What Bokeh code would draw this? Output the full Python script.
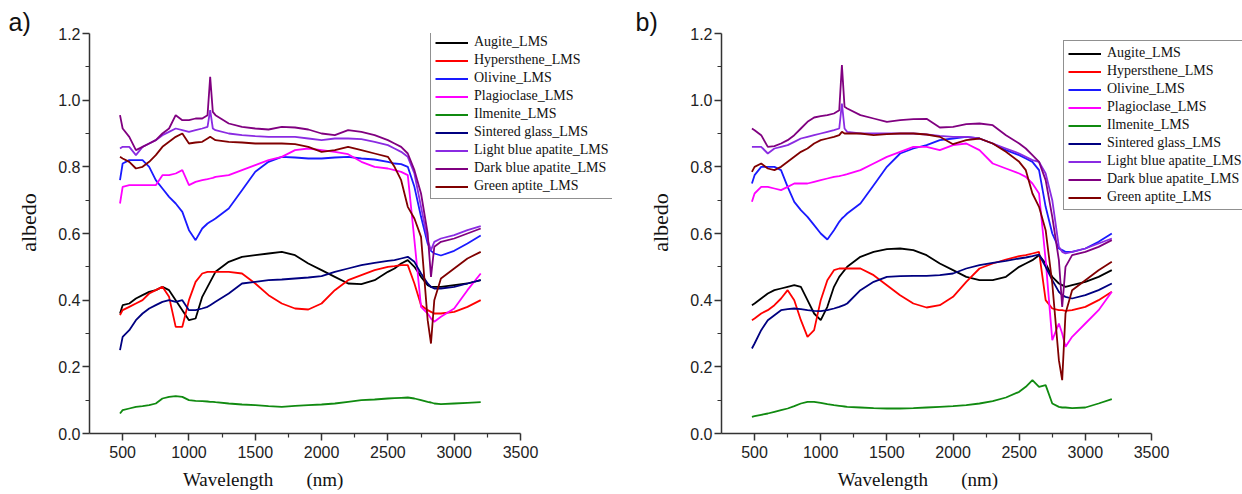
from bokeh.plotting import figure
from bokeh.layouts import row
from bokeh.models import (Range1d, FixedTicker, PrintfTickFormatter, Legend, LegendItem, Title)
from bokeh.embed import file_html
from bokeh.resources import INLINE

# ---------------- data ----------------
WL = [480, 500, 550, 600, 650, 700, 750, 800, 850, 900, 950, 1000, 1050, 1100, 1140, 1160, 1180, 1200,
      1300, 1400, 1500, 1600, 1700, 1800, 1900, 2000, 2100, 2200, 2300, 2400, 2500, 2550, 2600, 2650,
      2700, 2750, 2800, 2825, 2850, 2900, 3000, 3100, 3200]

NAMES = ["Augite_LMS", "Hypersthene_LMS", "Olivine_LMS", "Plagioclase_LMS", "Ilmenite_LMS",
         "Sintered glass_LMS", "Light blue apatite_LMS", "Dark blue apatite_LMS", "Green aptite_LMS"]
COLORS = ["#000000", "#ff0000", "#1a1aff", "#ff00ff", "#108a10", "#000080", "#8a2be2", "#800080", "#800000"]

# panel a)
augite_a = [0.36, 0.385, 0.39, 0.405, 0.415, 0.425, 0.43, 0.44, 0.43, 0.40, 0.37, 0.34, 0.345, 0.41, 0.44, 0.455, 0.47, 0.485,
            0.515, 0.53, 0.535, 0.54, 0.545, 0.535, 0.51, 0.49, 0.47, 0.45, 0.448, 0.46, 0.485, 0.495, 0.51, 0.52,
            0.50, 0.47, 0.445, 0.44, 0.44, 0.44, 0.445, 0.45, 0.46]
hyper_a = [0.355, 0.37, 0.38, 0.39, 0.40, 0.42, 0.43, 0.44, 0.41, 0.32, 0.32, 0.40, 0.455, 0.48, 0.485, 0.485, 0.485, 0.485,
           0.485, 0.48, 0.45, 0.415, 0.39, 0.375, 0.372, 0.39, 0.43, 0.46, 0.475, 0.49, 0.50, 0.502, 0.505, 0.505,
           0.45, 0.385, 0.37, 0.365, 0.36, 0.36, 0.365, 0.38, 0.40]
olivine_a = [0.76, 0.81, 0.82, 0.82, 0.82, 0.80, 0.76, 0.735, 0.71, 0.69, 0.665, 0.61, 0.58, 0.615, 0.63, 0.635, 0.64, 0.645,
             0.675, 0.73, 0.785, 0.815, 0.83, 0.828, 0.825, 0.825, 0.828, 0.83, 0.825, 0.822, 0.815, 0.81, 0.808, 0.80,
             0.74, 0.65, 0.57, 0.548, 0.54, 0.534, 0.548, 0.57, 0.594]
plag_a = [0.69, 0.74, 0.745, 0.745, 0.745, 0.745, 0.745, 0.775, 0.775, 0.78, 0.79, 0.745, 0.755, 0.76, 0.763, 0.765, 0.767, 0.77,
          0.775, 0.79, 0.805, 0.82, 0.83, 0.85, 0.855, 0.85, 0.845, 0.838, 0.815, 0.80, 0.795, 0.79, 0.785, 0.775,
          0.58, 0.38, 0.36, 0.345, 0.335, 0.35, 0.375, 0.43, 0.48]
ilmenite_a = [0.06, 0.07, 0.075, 0.08, 0.082, 0.085, 0.09, 0.105, 0.11, 0.112, 0.11, 0.10, 0.098, 0.097, 0.096, 0.095, 0.095, 0.094,
              0.09, 0.087, 0.085, 0.082, 0.08, 0.083, 0.085, 0.087, 0.09, 0.095, 0.10, 0.102, 0.105, 0.106, 0.107, 0.108,
              0.105, 0.10, 0.095, 0.093, 0.09, 0.088, 0.09, 0.092, 0.094]
sintered_a = [0.25, 0.29, 0.31, 0.34, 0.36, 0.375, 0.385, 0.395, 0.40, 0.395, 0.40, 0.37, 0.37, 0.375, 0.38, 0.385, 0.39, 0.395,
              0.42, 0.45, 0.455, 0.46, 0.462, 0.465, 0.468, 0.472, 0.485, 0.495, 0.505, 0.512, 0.518, 0.52, 0.525, 0.53,
              0.515, 0.48, 0.45, 0.44, 0.435, 0.435, 0.44, 0.45, 0.46]
lightblue_a = [0.855, 0.86, 0.86, 0.835, 0.86, 0.87, 0.88, 0.895, 0.905, 0.915, 0.91, 0.905, 0.91, 0.915, 0.92, 0.97, 0.915, 0.91,
               0.90, 0.895, 0.892, 0.89, 0.89, 0.89, 0.885, 0.88, 0.885, 0.885, 0.883, 0.875, 0.865, 0.855, 0.845, 0.83,
               0.78, 0.68, 0.58, 0.55, 0.575, 0.585, 0.595, 0.61, 0.622]
darkblue_a = [0.955, 0.915, 0.89, 0.85, 0.86, 0.87, 0.88, 0.90, 0.915, 0.955, 0.94, 0.94, 0.945, 0.945, 0.955, 1.07, 0.965, 0.955,
              0.93, 0.92, 0.915, 0.912, 0.92, 0.918, 0.912, 0.90, 0.895, 0.91, 0.905, 0.895, 0.88, 0.87, 0.86, 0.84,
              0.79, 0.72, 0.60, 0.47, 0.56, 0.575, 0.585, 0.60, 0.615]
greenap_a = [0.83, 0.825, 0.815, 0.795, 0.80, 0.815, 0.835, 0.86, 0.875, 0.89, 0.90, 0.87, 0.873, 0.875, 0.885, 0.89, 0.885, 0.88,
             0.875, 0.873, 0.87, 0.87, 0.87, 0.868, 0.86, 0.845, 0.85, 0.86, 0.85, 0.84, 0.83, 0.80, 0.76, 0.68,
             0.645, 0.59, 0.34, 0.27, 0.40, 0.465, 0.495, 0.525, 0.545]

# panel b)
augite_b = [0.385, 0.39, 0.405, 0.42, 0.43, 0.435, 0.44, 0.445, 0.44, 0.40, 0.36, 0.34, 0.38, 0.44, 0.47, 0.48, 0.49, 0.50,
            0.53, 0.545, 0.553, 0.555, 0.55, 0.535, 0.51, 0.49, 0.47, 0.46, 0.46, 0.47, 0.50, 0.51, 0.52, 0.535,
            0.51, 0.47, 0.45, 0.445, 0.44, 0.445, 0.455, 0.47, 0.49]
hyper_b = [0.34, 0.345, 0.36, 0.37, 0.385, 0.405, 0.43, 0.40, 0.34, 0.29, 0.31, 0.40, 0.46, 0.49, 0.495, 0.495, 0.495, 0.495,
           0.495, 0.475, 0.445, 0.415, 0.39, 0.378, 0.385, 0.41, 0.455, 0.495, 0.51, 0.522, 0.532, 0.535, 0.54, 0.545,
           0.40, 0.375, 0.37, 0.37, 0.368, 0.37, 0.38, 0.40, 0.425]
olivine_b = [0.75, 0.775, 0.80, 0.80, 0.80, 0.79, 0.74, 0.695, 0.67, 0.65, 0.625, 0.60, 0.582, 0.61, 0.635, 0.645, 0.652, 0.66,
             0.69, 0.745, 0.80, 0.84, 0.855, 0.865, 0.88, 0.885, 0.89, 0.885, 0.87, 0.85, 0.835, 0.825, 0.815, 0.79,
             0.68, 0.60, 0.555, 0.55, 0.545, 0.545, 0.555, 0.575, 0.60]
plag_b = [0.695, 0.72, 0.74, 0.74, 0.735, 0.73, 0.74, 0.75, 0.75, 0.75, 0.755, 0.76, 0.765, 0.77, 0.772, 0.774, 0.776, 0.778,
          0.79, 0.81, 0.83, 0.845, 0.86, 0.86, 0.85, 0.865, 0.87, 0.85, 0.81, 0.795, 0.78, 0.77, 0.75, 0.72,
          0.52, 0.28, 0.33, 0.30, 0.26, 0.29, 0.33, 0.37, 0.425]
ilmenite_b = [0.05, 0.052, 0.056, 0.06, 0.065, 0.07, 0.075, 0.082, 0.09, 0.095, 0.095, 0.092, 0.088, 0.085, 0.083, 0.082, 0.081, 0.08,
              0.078, 0.076, 0.075, 0.075, 0.076, 0.078, 0.08, 0.082, 0.085, 0.09, 0.097, 0.108, 0.125, 0.14, 0.16, 0.14,
              0.145, 0.09, 0.08, 0.078, 0.078, 0.076, 0.078, 0.09, 0.103]
sintered_b = [0.255, 0.27, 0.31, 0.34, 0.355, 0.37, 0.373, 0.375, 0.373, 0.37, 0.368, 0.367, 0.37, 0.375, 0.38, 0.383, 0.386, 0.39,
              0.43, 0.455, 0.47, 0.472, 0.473, 0.473, 0.475, 0.48, 0.495, 0.505, 0.512, 0.518, 0.525, 0.528, 0.532, 0.537,
              0.50, 0.46, 0.425, 0.415, 0.41, 0.405, 0.415, 0.43, 0.45]
lightblue_b = [0.86, 0.86, 0.86, 0.84, 0.855, 0.86, 0.865, 0.875, 0.885, 0.89, 0.895, 0.90, 0.905, 0.91, 0.915, 0.99, 0.915, 0.905,
               0.90, 0.90, 0.90, 0.90, 0.90, 0.897, 0.893, 0.89, 0.89, 0.885, 0.87, 0.855, 0.84, 0.83, 0.82, 0.815,
               0.78, 0.70, 0.56, 0.545, 0.54, 0.545, 0.555, 0.57, 0.585]
darkblue_b = [0.915, 0.91, 0.895, 0.86, 0.862, 0.87, 0.88, 0.895, 0.915, 0.935, 0.948, 0.952, 0.955, 0.96, 0.97, 1.105, 0.98, 0.975,
              0.955, 0.945, 0.935, 0.94, 0.943, 0.944, 0.918, 0.92, 0.928, 0.93, 0.925, 0.895, 0.87, 0.855, 0.835, 0.815,
              0.76, 0.65, 0.52, 0.38, 0.50, 0.535, 0.545, 0.56, 0.58]
greenap_b = [0.785, 0.80, 0.81, 0.795, 0.79, 0.80, 0.815, 0.83, 0.845, 0.855, 0.87, 0.88, 0.885, 0.89, 0.895, 0.905, 0.90, 0.90,
             0.90, 0.895, 0.898, 0.90, 0.90, 0.897, 0.89, 0.868, 0.88, 0.885, 0.87, 0.845, 0.815, 0.79, 0.72, 0.68,
             0.61, 0.45, 0.22, 0.16, 0.36, 0.43, 0.46, 0.49, 0.515]

SERIES_A = [augite_a, hyper_a, olivine_a, plag_a, ilmenite_a, sintered_a, lightblue_a, darkblue_a, greenap_a]
SERIES_B = [augite_b, hyper_b, olivine_b, plag_b, ilmenite_b, sintered_b, lightblue_b, darkblue_b, greenap_b]

X_TICKS = [500, 1000, 1500, 2000, 2500, 3000, 3500]
X_MINOR = [750, 1250, 1750, 2250, 2750, 3250]
Y_TICKS = [0.0, 0.2, 0.4, 0.6, 0.8, 1.0, 1.2]
Y_MINOR = [0.1, 0.3, 0.5, 0.7, 0.9, 1.1]

SANS = "Liberation Sans"
SERIF = "Liberation Serif"
NB = "\u00a0"


def make_panel(series, tag, width, left, axis_px, legend_xy, tag_dx, xlab_pad):
    # axis_px: pixels spanned by 250..3500
    x_end = 250 + (width - left) * 3250.0 / axis_px
    p = figure(width=width, height=494, output_backend="svg", toolbar_location=None,
               x_range=Range1d(250, x_end), y_range=Range1d(0, 1.2),
               min_border_left=left, min_border_right=0, min_border_top=33, min_border_bottom=61)
    p.outline_line_color = None
    p.xgrid.visible = False
    p.ygrid.visible = False
    p.background_fill_color = "white"
    p.border_fill_color = "white"

    items = []
    for name, col, ys in zip(NAMES, COLORS, series):
        r = p.line(WL, ys, line_color=col, line_width=1.8)
        items.append(LegendItem(label=name, renderers=[r]))

    for ax in (p.xaxis[0], p.yaxis[0]):
        ax.axis_line_color = "#333333"
        ax.axis_line_width = 1.5
        ax.major_tick_line_color = "#333333"
        ax.minor_tick_line_color = "#333333"
        ax.major_tick_line_width = 1.5
        ax.minor_tick_line_width = 1.2
        ax.major_tick_out = 7
        ax.major_tick_in = 0
        ax.minor_tick_out = 4
        ax.minor_tick_in = 0
        ax.major_label_text_font = SANS
        ax.major_label_text_font_size = "16px"
        ax.major_label_text_color = "#222222"
    p.xaxis.major_label_standoff = 5
    p.yaxis.major_label_standoff = 2
    p.xaxis.ticker = FixedTicker(ticks=X_TICKS, minor_ticks=X_MINOR)
    p.xaxis.bounds = (250, 3500)
    p.yaxis.ticker = FixedTicker(ticks=Y_TICKS, minor_ticks=Y_MINOR)
    p.yaxis.formatter = PrintfTickFormatter(format="%.1f")
    p.yaxis.axis_label = NB * 4 + "albedo"
    p.yaxis.axis_label_text_font = SERIF
    p.yaxis.axis_label_text_font_size = "22px"
    p.yaxis.axis_label_text_font_style = "normal"
    p.yaxis.axis_label_text_color = "#111111"
    p.yaxis.axis_label_standoff = 14

    p.xaxis.axis_label = "Wavelength" + NB * 7 + "(nm)" + NB * xlab_pad
    p.xaxis.axis_label_text_font = SERIF
    p.xaxis.axis_label_text_font_size = "19px"
    p.xaxis.axis_label_text_font_style = "normal"
    p.xaxis.axis_label_text_color = "#111111"
    p.xaxis.axis_label_standoff = 8

    legend = Legend(items=items, location=legend_xy)
    legend.label_text_font = SERIF
    legend.label_text_font_size = "14px"
    legend.label_text_color = "#111111"
    legend.glyph_width = 33
    legend.glyph_height = 15
    legend.label_height = 15
    legend.label_standoff = 6
    legend.spacing = 2
    legend.padding = 4
    legend.margin = 0
    legend.border_line_color = "#222222"
    legend.border_line_width = 1.5
    legend.background_fill_color = "white"
    legend.background_fill_alpha = 1.0
    p.add_layout(legend)

    p.add_layout(Title(text=tag, align="left", offset=tag_dx, text_font=SANS, text_font_size="25px",
                       text_font_style="normal", text_color="#111111", standoff=-4,
                       vertical_align="bottom"), "above")
    return p


p1 = make_panel(SERIES_A, "a)", 612, 89, 431, (341, 234), -81, 37)
p2 = make_panel(SERIES_B, "b)", 630, 109, 430, (342, 223), -86, 27)

layout = row(p1, p2, spacing=0)
open("out.html", "w").write(file_html(layout, INLINE))
